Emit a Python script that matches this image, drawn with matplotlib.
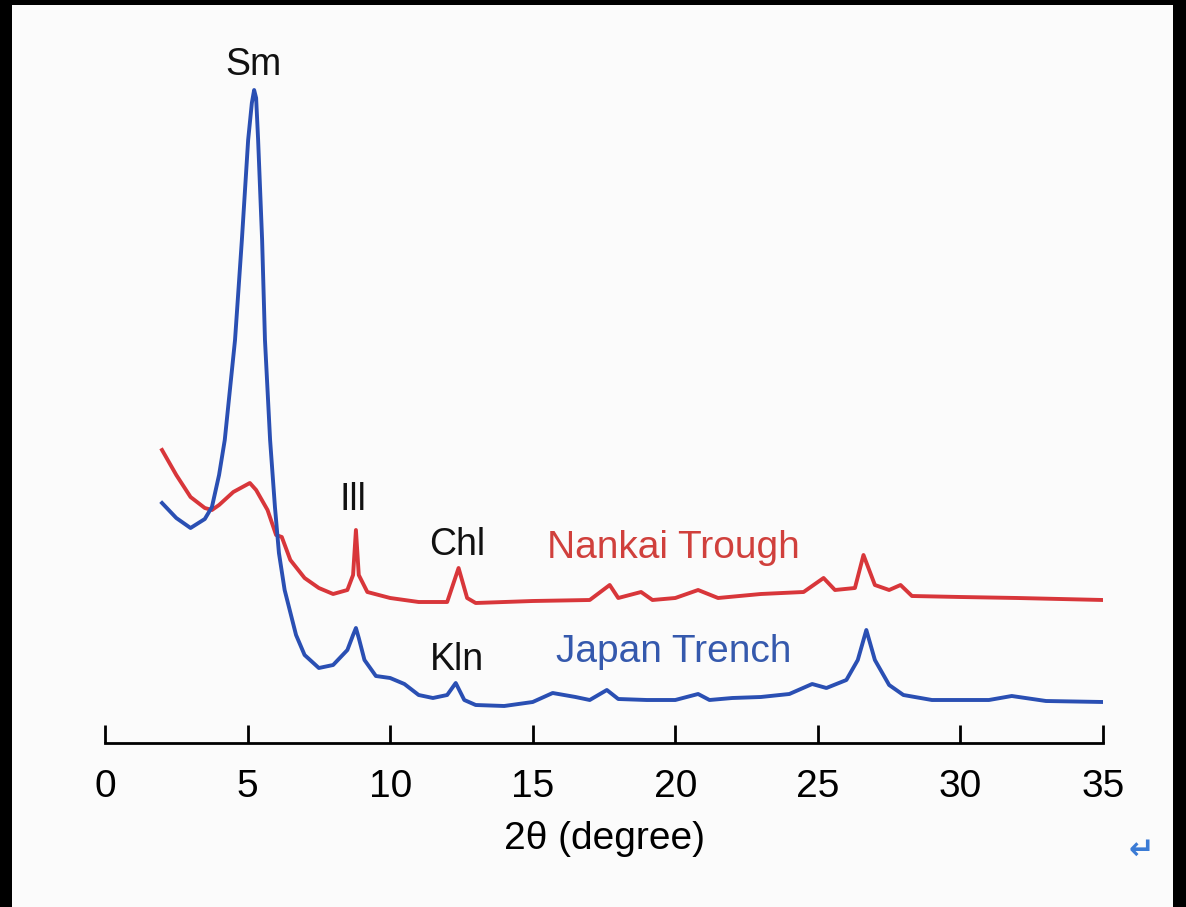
import matplotlib.pyplot as plt
from matplotlib.patches import Rectangle

plt.rcParams["font.family"] = ["Liberation Sans", "DejaVu Sans"]

# Japan Trench (blue) – 2theta and intensity (arbitrary)
jt_x = [2.0, 2.5, 3.0, 3.5, 3.75, 4.0, 4.2, 4.56, 4.8, 5.02, 5.15, 5.23, 5.3, 5.37,
        5.51, 5.61, 5.79, 5.96, 6.1, 6.3, 6.7, 7.0, 7.5, 8.0, 8.5, 8.7, 8.8, 8.9,
        9.1, 9.5, 10.0, 10.5, 11.0, 11.5, 12.0, 12.3, 12.6, 13.0, 14.0, 15.0,
        15.7, 16.5, 17.0, 17.6, 18.0, 19.0, 20.0, 20.8, 21.2, 22.0, 23.0, 24.0,
        24.8, 25.3, 26.0, 26.4, 26.7, 27.0, 27.5, 28.0, 29.0, 30.0, 31.0, 31.8,
        33.0, 35.0]
jt_y = [240, 225, 215, 224, 236, 268, 303, 403, 503, 603, 640, 653, 645, 603,
        503, 403, 303, 236, 190, 153, 108, 88, 75, 78, 93, 108, 115, 105,
        83, 67, 65, 59, 48, 45, 48, 60, 43, 38, 37, 41,
        50, 46, 43, 53, 44, 43, 43, 49, 43, 45, 46, 49,
        59, 55, 63, 83, 113, 83, 58, 48, 43, 43, 43, 47,
        42, 41]

# Nankai Trough (red)
nt_x = [2.0, 2.5, 3.0, 3.5, 3.75, 4.0, 4.5, 5.08, 5.3, 5.7, 6.0, 6.2, 6.5, 7.0,
        7.5, 8.0, 8.5, 8.7, 8.8, 8.9, 9.2, 10.0, 11.0, 12.0, 12.4, 12.7, 13.0,
        15.0, 17.0, 17.7, 18.0, 18.8, 19.2, 20.0, 20.8, 21.5, 23.0, 24.5, 25.2,
        25.6, 26.3, 26.6, 27.0, 27.5, 27.9, 28.3, 30.0, 32.0, 35.0]
nt_y = [293, 268, 246, 235, 233, 238, 251, 260, 253, 233, 208, 206, 183, 165,
        155, 149, 153, 168, 213, 168, 151, 145, 141, 141, 175, 145, 140,
        142, 143, 158, 145, 151, 143, 145, 153, 145, 149, 151, 165,
        153, 155, 188, 158, 153, 158, 147, 146, 145, 143]

peak_labels = ["Sm", "Ill", "Chl", "Kln"]
peak_x = [5.2, 8.7, 12.35, 12.35]
peak_y = [678, 243, 198, 83]

xticks = [0, 5, 10, 15, 20, 25, 30, 35]

red = "#d8363a"
blue = "#2a4fb3"

fig = plt.figure(figsize=(11.86, 9.07), dpi=100, facecolor="black")
# white page inside the dark frame
fig.patches.append(Rectangle((12 / 1186, 0), 1161 / 1186, 1 - 5 / 907,
                             transform=fig.transFigure, facecolor="#fbfbfb",
                             edgecolor="none", zorder=-5))

ax = fig.add_axes([105 / 1186, (907 - 743) / 907, 998 / 1186, 738 / 907])
ax.set_zorder(2)
ax.patch.set_visible(False)
ax.plot(nt_x, nt_y, color=red, lw=2.8, solid_joinstyle="round")
ax.plot(jt_x, jt_y, color=blue, lw=2.8, solid_joinstyle="round")

for lab, px, py in zip(peak_labels, peak_x, peak_y):
    ax.text(px, py, lab, ha="center", va="center", fontsize=27, color="#111111")
ax.text(19.95, 195, "Nankai Trough", ha="center", va="center", fontsize=28, color="#d0403c")
ax.text(19.95, 91, "Japan Trench", ha="center", va="center", fontsize=28, color="#3559ad")

ax.set_xlim(0, 35)
ax.set_ylim(0, 738)
for s in ["left", "right", "top"]:
    ax.spines[s].set_visible(False)
ax.spines["bottom"].set_linewidth(2)
ax.set_yticks([])
ax.set_xticks(xticks)
ax.tick_params(axis="x", direction="in", length=13, width=2, pad=19, labelsize=28)
ax.set_xlabel("2θ (degree)", fontsize=28, labelpad=11)

fig.text(1141 / 1186, 1 - 850 / 907, "↵", color="#3a7bd5", fontsize=22,
         fontweight="bold", ha="center", va="center", family="DejaVu Sans")

fig.savefig("out.png", dpi=100, facecolor=fig.get_facecolor())
